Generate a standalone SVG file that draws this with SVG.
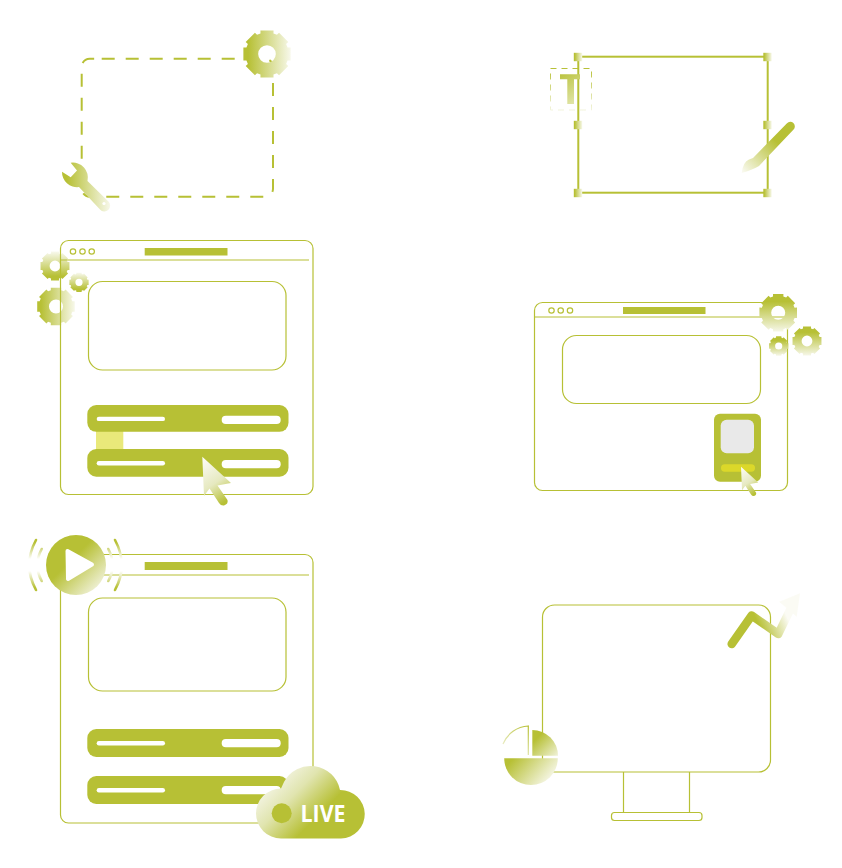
<svg xmlns="http://www.w3.org/2000/svg" xmlns:xlink="http://www.w3.org/1999/xlink" width="842" height="868" viewBox="0 0 842 868">
<style>
.ln{fill:none;stroke:#b7c035;stroke-width:1.2}
.ln2{fill:none;stroke:#b7c035;stroke-width:2}
.solid{fill:#b7c035}
.wh{fill:#fff}
text{font-family:"Open Sans","Noto Sans",sans-serif}
</style>
<defs>
<linearGradient id="gH"><stop offset="0.1" stop-color="#b7c035"/><stop offset="1" stop-color="#f7f8ea"/></linearGradient>
<linearGradient id="gV" x2="0" y2="1"><stop offset="0.2" stop-color="#b7c035"/><stop offset="1" stop-color="#f6f7e8"/></linearGradient>
<linearGradient id="gU" x2="0" y2="1"><stop offset="0" stop-color="#f8f9ee"/><stop offset="0.85" stop-color="#b7c035"/></linearGradient>
<linearGradient id="gD1" x1="0" y1="0" x2="1" y2="1"><stop offset="0.25" stop-color="#b7c035"/><stop offset="1" stop-color="#f0f2d8"/></linearGradient>
<linearGradient id="gHalf" gradientUnits="userSpaceOnUse" x1="512" y1="752" x2="550" y2="785"><stop offset="0.1" stop-color="#b7c035"/><stop offset="1" stop-color="#fbfbf4"/></linearGradient>
<linearGradient id="gCur" x1="0.2" y1="0" x2="0.6" y2="1"><stop offset="0" stop-color="#fbfbf4"/><stop offset="0.55" stop-color="#e6e9c0"/><stop offset="1" stop-color="#b7c035"/></linearGradient>
<linearGradient id="gPlay" x1="0.1" y1="0.1" x2="0.9" y2="0.9"><stop offset="0.4" stop-color="#b7c035"/><stop offset="1" stop-color="#f2f3de"/></linearGradient>
<linearGradient id="gCloud" gradientUnits="userSpaceOnUse" x1="262" y1="787" x2="312" y2="837"><stop offset="0" stop-color="#f6f7ea"/><stop offset="0.4" stop-color="#e0e4ae"/><stop offset="0.85" stop-color="#b7c035"/></linearGradient>
<linearGradient id="gCorner" gradientUnits="userSpaceOnUse" x1="528" y1="726" x2="503" y2="760"><stop offset="0" stop-color="#b7c035"/><stop offset="1" stop-color="#fff"/></linearGradient>
<linearGradient id="gPen" gradientUnits="userSpaceOnUse" x1="790" y1="127" x2="742" y2="173"><stop offset="0.3" stop-color="#b7c035"/><stop offset="1" stop-color="#fbfbf4"/></linearGradient>
<linearGradient id="gT" gradientUnits="userSpaceOnUse" x1="558" y1="72" x2="582" y2="110"><stop offset="0" stop-color="#b7c035"/><stop offset="1" stop-color="#ecefc8"/></linearGradient>
<linearGradient id="gTb" gradientUnits="userSpaceOnUse" x1="550" y1="68" x2="550" y2="110"><stop offset="0" stop-color="#b7c035"/><stop offset="1" stop-color="#f2f4dc"/></linearGradient>
<linearGradient id="gArrow" gradientUnits="userSpaceOnUse" x1="755" y1="625" x2="785" y2="612"><stop offset="0.1" stop-color="#b7c035"/><stop offset="1" stop-color="#fbfbf4"/></linearGradient>
<linearGradient id="gArcs" gradientUnits="userSpaceOnUse" x1="0" y1="540" x2="0" y2="590"><stop offset="0.05" stop-color="#b7c035"/><stop offset="0.38" stop-color="#fff"/><stop offset="0.62" stop-color="#fff"/><stop offset="0.95" stop-color="#b7c035"/></linearGradient>
<path id="gear" fill-rule="evenodd" d="M96.4,26.7L83.9,26.5 78.1,40.6 87,49.2 49.2,87 40.6,78.1 26.5,83.9 26.7,96.4 -26.7,96.4 -26.5,83.9 -40.6,78.1 -49.2,87 -87,49.2 -78.1,40.6 -83.9,26.5 -96.4,26.7 -96.4,-26.7 -83.9,-26.5 -78.1,-40.6 -87,-49.2 -49.2,-87 -40.6,-78.1 -26.5,-83.9 -26.7,-96.4 26.7,-96.4 26.5,-83.9 40.6,-78.1 49.2,-87 87,-49.2 78.1,-40.6 83.9,-26.5 96.4,-26.7Z M36,0A36,36 0 1 0 -36,0A36,36 0 1 0 36,0Z"/>
<path id="cursor" d="M0,0L28.7,26.3 15.2,28.8 25.2,43.3Q26.2,47.3 21.7,48.8Q18.7,49.3 16.7,46.3L7.2,31.8 1.7,39.3Z"/>
<rect id="handle" x="-4.2" y="-4.2" width="8.4" height="8.4"/>
</defs>

<g id="node-tools">
<path class="ln2" stroke-dasharray="13 11" d="M101.7,58.7H265A8,8 0 0 1 273,66.7V188.7A8,8 0 0 1 265,196.7H89.7A8,8 0 0 1 81.7,188.7V66.7A8,8 0 0 1 89.7,58.7Z"/>
<use xlink:href="#gear" href="#gear" fill="url(#gH)" transform="translate(267,54) scale(.245)"/>
<path fill="url(#gH)" d="M70.7,162.7A15,15 0 0 1 87.5,181L108.7,201.7A5.7,5.7 0 0 1 100,209.5L79,187A15,15 0 0 1 62,171.7L70.7,177.3 77,170.5Z"/>
<circle class="wh" cx="104" cy="203.5" r="1.6"/>
</g>

<g id="node-text-frame">
<rect class="ln2" x="578.3" y="56.7" width="189.4" height="136"/>
<rect x="550.5" y="68.5" width="41" height="41.5" fill="none" stroke="url(#gTb)" stroke-width="1" stroke-dasharray="6 5"/>
<path fill="url(#gT)" d="M560,74.3H580V79.3H574V104H567.3V79.3H560Z"/>
<g fill="url(#gH)">
<use xlink:href="#handle" href="#handle" x="578" y="57"/>
<use xlink:href="#handle" href="#handle" x="767.5" y="57"/>
<use xlink:href="#handle" href="#handle" x="578" y="125"/>
<use xlink:href="#handle" href="#handle" x="767.5" y="125"/>
<use xlink:href="#handle" href="#handle" x="578" y="193"/>
<use xlink:href="#handle" href="#handle" x="767.5" y="193"/>
</g>
<path fill="url(#gPen)" d="M787,123.3A4.5,4.5 0 0 1 793.6,129.5L759,166Q752,170 741.7,173Q743,162 749,159.5L753,158Z"/>
</g>

<g id="node-browser-settings">
<use xlink:href="#gear" href="#gear" fill="url(#gU)" transform="translate(55,266) scale(.15)"/>
<use xlink:href="#gear" href="#gear" fill="url(#gU)" transform="translate(79,282.3) scale(.1)"/>
<use xlink:href="#gear" href="#gear" fill="url(#gH)" transform="translate(56,306.5) scale(.195)"/>
<rect class="ln" x="60.5" y="240.5" width="252.5" height="254" rx="8"/>
<path class="ln" d="M60.5,260H309"/>
<g class="ln"><circle cx="73" cy="251.5" r="2.7"/><circle cx="82.5" cy="251.5" r="2.7"/><circle cx="91.7" cy="251.5" r="2.7"/></g>
<rect class="solid" x="144.7" y="248" width="82.8" height="7.5"/>
<rect class="ln" x="88.5" y="281.5" width="197.5" height="88.5" rx="14"/>
<rect x="96" y="430" width="27.3" height="21" fill="#e9e97a"/>
<rect class="solid" x="87.3" y="405" width="201.2" height="26.8" rx="9"/>
<rect class="solid" x="87.3" y="449" width="201.2" height="27.7" rx="9"/>
<rect class="wh" x="96.7" y="416.7" width="68.3" height="4.4" rx="2.2"/>
<rect class="wh" x="221.7" y="415.7" width="59" height="8.3" rx="4.1"/>
<rect class="wh" x="96.7" y="461" width="68.3" height="4.4" rx="2.2"/>
<rect class="wh" x="221.7" y="460" width="59" height="8.3" rx="4.1"/>
<use xlink:href="#cursor" href="#cursor" fill="url(#gCur)" transform="translate(202.3,456.7)"/>
</g>

<g id="node-browser-mobile">
<rect class="ln" x="534.5" y="302.5" width="253" height="188" rx="8"/>
<path class="ln" d="M534.5,317H784"/>
<g class="ln"><circle cx="551.5" cy="310.5" r="2.7"/><circle cx="560.7" cy="310.5" r="2.7"/><circle cx="570" cy="310.5" r="2.7"/></g>
<rect class="solid" x="623" y="307" width="82.5" height="7"/>
<rect class="ln" x="562.5" y="335.5" width="198" height="68" rx="14"/>
<rect class="solid" x="714" y="413.7" width="47" height="68" rx="6"/>
<rect x="720.7" y="419.7" width="33.3" height="33.6" rx="6" fill="#e9e9e9"/>
<rect x="721" y="464.3" width="34" height="7.4" rx="3.7" fill="#dbd82a"/>
<use xlink:href="#cursor" href="#cursor" fill="url(#gCur)" transform="translate(741,466.7) scale(.6)"/>
<use xlink:href="#gear" href="#gear" fill="url(#gV)" transform="translate(778.2,312.8) scale(.195)"/>
<use xlink:href="#gear" href="#gear" fill="url(#gV)" transform="translate(778.7,346) scale(.1)"/>
<use xlink:href="#gear" href="#gear" fill="url(#gV)" transform="translate(807,341) scale(.15)"/>
</g>

<g id="node-browser-live">
<rect class="ln" x="60.5" y="554.5" width="252.5" height="268.5" rx="8"/>
<path class="ln" d="M60.5,575H309"/>
<rect class="solid" x="144.7" y="562" width="82.8" height="8"/>
<rect class="ln" x="88.5" y="598" width="197.5" height="93" rx="14"/>
<rect class="solid" x="87.3" y="729" width="201.2" height="28" rx="9"/>
<rect class="solid" x="87.3" y="776" width="201.2" height="28" rx="9"/>
<rect class="wh" x="96.7" y="741" width="68.3" height="4.4" rx="2.2"/>
<rect class="wh" x="221.7" y="739" width="59" height="8.3" rx="4.1"/>
<rect class="wh" x="96.7" y="788" width="68.3" height="4.4" rx="2.2"/>
<rect class="wh" x="221.7" y="786" width="59" height="8.3" rx="4.1"/>
<g fill="none" stroke="url(#gArcs)" stroke-width="2.6" stroke-linecap="round">
<path d="M41.7,549Q33,565 41.7,581"/><path d="M36,540Q22.5,565 36,590"/>
<path d="M108.3,549Q117,565 108.3,581"/><path d="M115,540Q128.5,565 115,590"/>
</g>
<circle cx="76" cy="565" r="30" fill="url(#gPlay)"/>
<path class="wh" stroke="#fff" stroke-width="4" stroke-linejoin="round" d="M67.5,551L92,564.5 68,579Z"/>
<path fill="url(#gCloud)" d="M281,838.5A25,25 0 0 1 281,788.5L284,782A30,30 0 0 1 340,790A24.25,24.25 0 0 1 341,838.5Z"/>
<circle class="solid" cx="281.7" cy="813.3" r="10"/>
<text x="300.5" y="821.7" font-size="23" font-weight="700" fill="#fff" textLength="45" lengthAdjust="spacingAndGlyphs">LIVE</text>
</g>

<g id="node-monitor">
<rect class="ln" x="542.5" y="605" width="228" height="167" rx="12"/>
<path class="ln" d="M623.5,772V812.5M689.5,772V812.5"/>
<rect class="ln" x="611.5" y="812.5" width="90.5" height="8" rx="3"/>
<path fill="none" stroke="url(#gArrow)" stroke-width="8.5" stroke-linecap="round" stroke-linejoin="round" d="M731.7,644L751.7,615.5 778.3,634 790,610"/>
<path fill="url(#gArrow)" d="M779.3,601.7L800,593.3 796.7,616.7Z"/>
<path class="wh" d="M528.3,726A29,29 0 0 0 499.3,755H528.3Z"/>
<path fill="none" stroke="url(#gCorner)" stroke-width="1.2" d="M528.3,755V726A29,29 0 0 0 503,744"/>
<path fill="url(#gD1)" d="M532.3,730A25.7,25.7 0 0 1 558,755.7H532.3Z"/>
<path fill="url(#gHalf)" d="M504.2,758.3H557.8A26.8,26.8 0 0 1 504.2,758.3Z"/>
</g>

<g id="connectors"></g>
</svg>
